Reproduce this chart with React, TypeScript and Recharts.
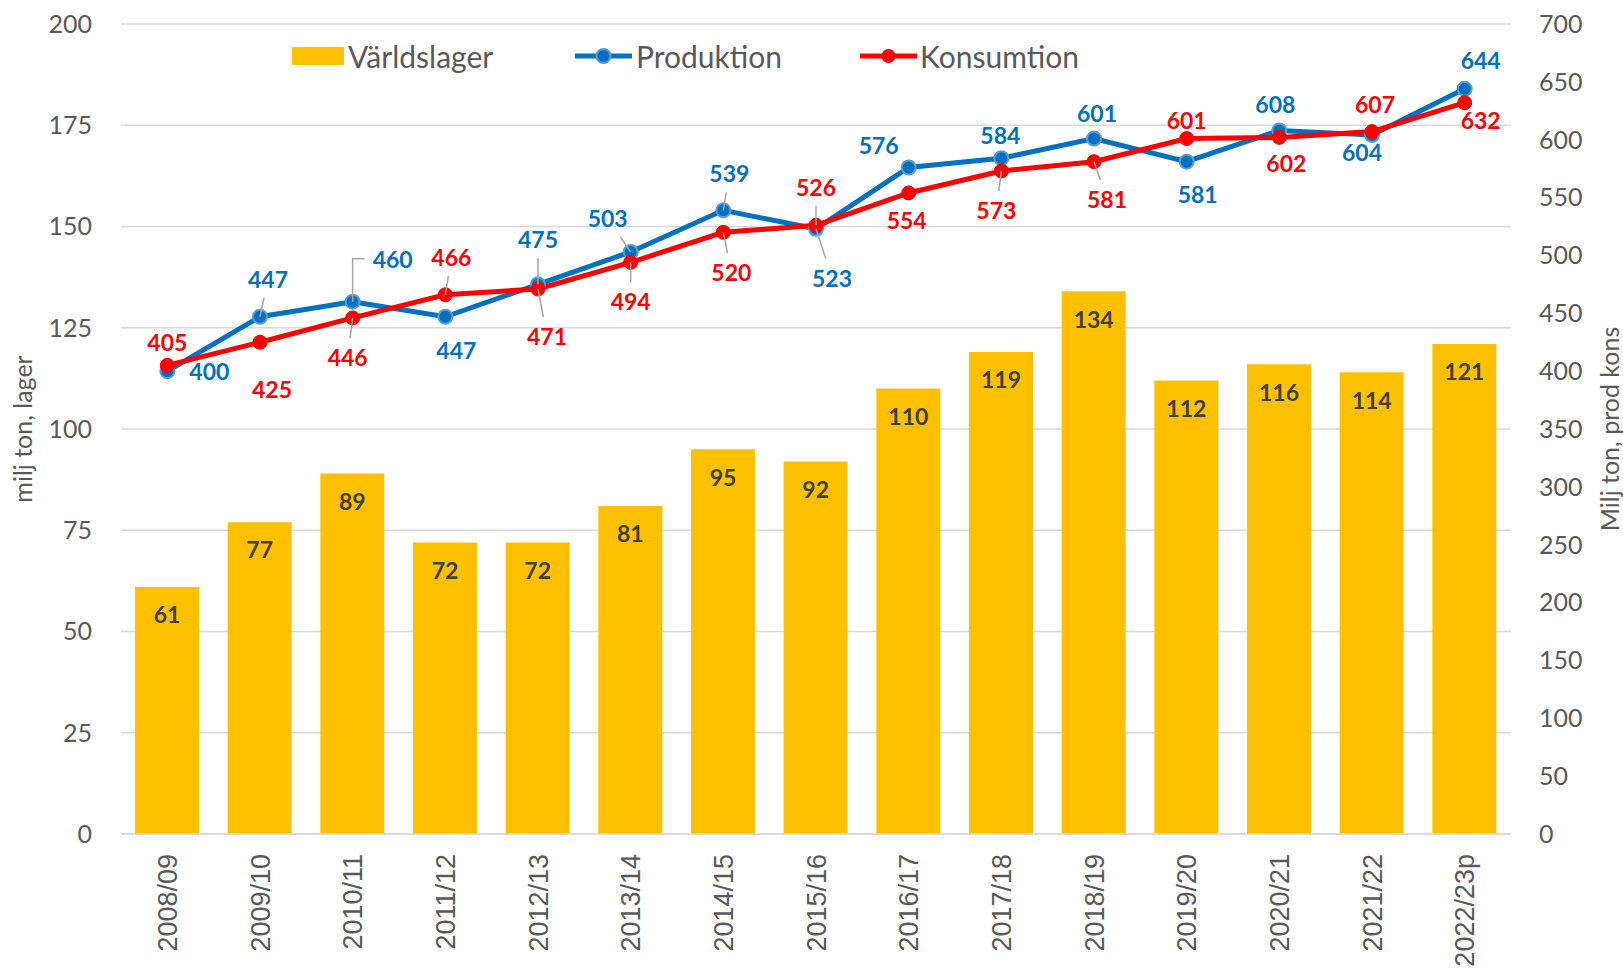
import React from 'react';
import {
  ComposedChart,
  Bar,
  Line,
  XAxis,
  YAxis,
  CartesianGrid,
  Legend,
  LabelList,
} from 'recharts';

const seasons = [
  '2008/09', '2009/10', '2010/11', '2011/12', '2012/13', '2013/14', '2014/15', '2015/16',
  '2016/17', '2017/18', '2018/19', '2019/20', '2020/21', '2021/22', '2022/23p',
];
const lager = [61, 77, 89, 72, 72, 81, 95, 92, 110, 119, 134, 112, 116, 114, 121];
const produktion = [400, 447, 460, 447, 475, 503, 539, 523, 576, 584, 601, 581, 608, 604, 644];
const konsumtion = [405, 425, 446, 466, 471, 494, 520, 526, 554, 573, 581, 601, 602, 607, 632];

const leftTicks = [0, 25, 50, 75, 100, 125, 150, 175, 200];
const rightTicks = [0, 50, 100, 150, 200, 250, 300, 350, 400, 450, 500, 550, 600, 650, 700];

// label placement relative to the point: [dx, dy, leader]
const prodLabelPos: [number, number, string][] = [
  [42, 0, ''], [8, -38, 'line'], [40, -43, 'elbow'], [11, 33, ''], [0, -45, 'line'],
  [-23, -34, 'line'], [6, -37, 'line'], [16, 49, 'line'], [-30, -22, ''], [-1, -23, ''],
  [3, -26, ''], [11, 32, ''], [-4, -26, ''], [-10, 17, ''], [16, -29, ''],
];
const konsLabelPos: [number, number, string][] = [
  [0, -23, ''], [12, 47, ''], [-5, 39, 'line'], [6, -38, 'line'], [9, 47, 'line'],
  [0, 39, 'line'], [8, 40, 'line'], [0, -38, 'line'], [-2, 27, ''], [-5, 39, 'line'],
  [13, 37, 'line'], [0, -19, ''], [7, 26, ''], [3, -28, ''], [16, 17, ''],
];

const data = seasons.map((season, i) => ({
  season,
  lager: lager[i],
  produktion: produktion[i],
  konsumtion: konsumtion[i],
}));

const BLUE = '#0070C0';
const RED = '#FF0000';
const GOLD = '#FFC000';
const GRID = '#D9D9D9';
const TEXT = '#595959';
const LABEL_FONT = 'Lato, "Open Sans", sans-serif';

const makeLineLabel = (pos: [number, number, string][], color: string) => (props: any) => {
  const { x, y, value, index } = props;
  if (x == null || y == null || index == null) return null;
  const [dx, dy, leader] = pos[index];
  const cx = x + dx;
  const cy = y + dy;
  let lead = null;
  if (leader === 'line') {
    const hw = 26;
    const hh = 19;
    const fx = dx === 0 ? Infinity : hw / Math.abs(dx);
    const fy = dy === 0 ? Infinity : hh / Math.abs(dy);
    const f = Math.min(fx, fy);
    if (f < 1) {
      lead = (
        <line x1={x} y1={y} x2={cx - f * dx} y2={cy - f * dy} stroke="#A6A6A6" strokeWidth={1.5} />
      );
    }
  } else if (leader === 'elbow') {
    lead = (
      <polyline
        points={`${x},${y} ${x},${cy} ${cx - 28},${cy}`}
        fill="none"
        stroke="#A6A6A6"
        strokeWidth={1.5}
      />
    );
  }
  return (
    <g>
      {lead}
      <text
        x={cx}
        y={cy}
        textAnchor="middle"
        dominantBaseline="central"
        fill={color}
        fontFamily={LABEL_FONT}
        fontWeight="bold"
        fontSize={23}
      >
        {value}
      </text>
    </g>
  );
};

const XTick = (props: any) => {
  const { x, y, payload } = props;
  return (
    <text
      x={x}
      y={y}
      transform={`rotate(-90, ${x}, ${y})`}
      textAnchor="end"
      dy="0.36em"
      fill={TEXT}
      fontFamily='"Liberation Sans", Arial, sans-serif'
      fontSize={27}
    >
      {payload.value}
    </text>
  );
};

const renderLegend = () => (
  <div
    style={{
      display: 'flex',
      alignItems: 'center',
      fontFamily: LABEL_FONT,
      fontSize: 30,
      color: TEXT,
      height: 40,
    }}
  >
    <div style={{ width: 283, display: 'flex', alignItems: 'center' }}>
      <span style={{ display: 'inline-block', width: 52, height: 18, background: GOLD, marginRight: 4 }} />
      <span>Världslager</span>
    </div>
    <div style={{ width: 285, display: 'flex', alignItems: 'center' }}>
      <svg width={57} height={20} style={{ marginRight: 4 }}>
        <line x1={0} y1={10} x2={57} y2={10} stroke={BLUE} strokeWidth={5} />
        <circle cx={28.5} cy={10} r={7} fill={BLUE} stroke="#5B9BD5" strokeWidth={2} />
      </svg>
      <span>Produktion</span>
    </div>
    <div style={{ display: 'flex', alignItems: 'center' }}>
      <svg width={57} height={20} style={{ marginRight: 3 }}>
        <line x1={0} y1={10} x2={57} y2={10} stroke={RED} strokeWidth={5} />
        <circle cx={28.5} cy={10} r={7} fill={RED} />
      </svg>
      <span>Konsumtion</span>
    </div>
  </div>
);

export default function App() {
  return (
    <div style={{ position: 'absolute', left: 0, top: 0, background: '#fff' }}>
      <ComposedChart
        width={1623}
        height={968}
        data={data}
        margin={{ top: 24, right: 0, bottom: 0, left: 0 }}
      >
        <CartesianGrid yAxisId="left" vertical={false} stroke={GRID} strokeWidth={1.5} />
        <XAxis
          dataKey="season"
          interval={0}
          height={134}
          tickLine={false}
          tickSize={0}
          tickMargin={20}
          axisLine={{ stroke: GRID, strokeWidth: 1.5 }}
          tick={<XTick />}
        />
        <YAxis
          yAxisId="left"
          orientation="left"
          width={121}
          domain={[0, 200]}
          ticks={leftTicks}
          axisLine={false}
          tickLine={false}
          tickSize={0}
          tickMargin={29}
          tick={{ fill: TEXT, fontFamily: LABEL_FONT, fontSize: 25 }}
          label={{
            value: 'milj ton, lager',
            angle: -90,
            position: 'insideLeft',
            offset: 23,
            style: { textAnchor: 'middle', fill: TEXT, fontFamily: LABEL_FONT, fontSize: 25 },
          }}
        />
        <YAxis
          yAxisId="right"
          orientation="right"
          width={112}
          domain={[0, 700]}
          ticks={rightTicks}
          axisLine={false}
          tickLine={false}
          tickSize={0}
          tickMargin={28}
          tick={{ fill: TEXT, fontFamily: LABEL_FONT, fontSize: 25 }}
          label={{
            value: 'Milj ton, prod kons',
            angle: -90,
            position: 'insideRight',
            offset: 13,
            style: { textAnchor: 'middle', fill: TEXT, fontFamily: LABEL_FONT, fontSize: 25 },
          }}
        />
        <Legend
          verticalAlign="middle"
          layout="horizontal"
          content={renderLegend}
          wrapperStyle={{ top: 36, left: 292, width: 900 }}
        />
        <Bar dataKey="lager" name="Världslager" yAxisId="left" fill={GOLD} barSize={64} isAnimationActive={false}>
          <LabelList
            dataKey="lager"
            position="insideTop"
            offset={20}
            fill="#404040"
            fontFamily={LABEL_FONT}
            fontWeight="bold"
            fontSize={23}
          />
        </Bar>
        <Line
          dataKey="produktion"
          name="Produktion"
          yAxisId="right"
          type="linear"
          stroke={BLUE}
          strokeWidth={5}
          dot={{ r: 7, fill: BLUE, stroke: '#5B9BD5', strokeWidth: 2 }}
          isAnimationActive={false}
        >
          <LabelList dataKey="produktion" content={makeLineLabel(prodLabelPos, BLUE)} />
        </Line>
        <Line
          dataKey="konsumtion"
          name="Konsumtion"
          yAxisId="right"
          type="linear"
          stroke={RED}
          strokeWidth={5}
          dot={{ r: 7, fill: RED, stroke: RED, strokeWidth: 1 }}
          isAnimationActive={false}
        >
          <LabelList dataKey="konsumtion" content={makeLineLabel(konsLabelPos, RED)} />
        </Line>
      </ComposedChart>
    </div>
  );
}
